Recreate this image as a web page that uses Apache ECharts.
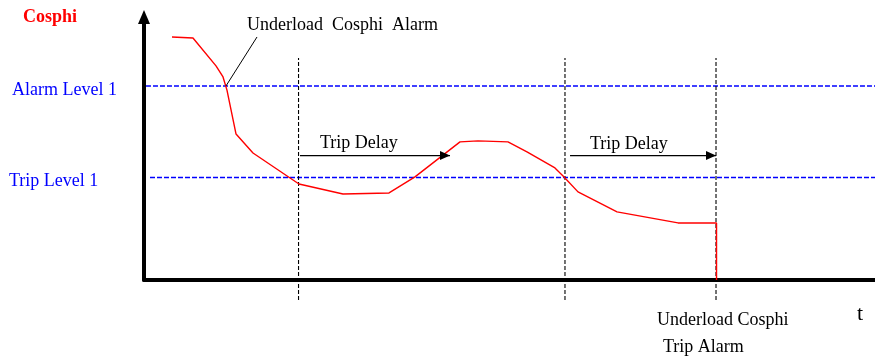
<!DOCTYPE html>
<html>
<head>
<meta charset="utf-8">
<script src="https://cdn.jsdelivr.net/npm/echarts@6/dist/echarts.min.js"></script>
<style>
  html, body { margin: 0; padding: 0; background: #ffffff; }
  #chart { width: 875px; height: 359px; }
</style>
</head>
<body>
<div id="chart"></div>
<script>
// Cosphi curve over time (time in arbitrary units 0..100, cosphi normalised 0..1)
const curveTime   = [3.83, 6.70, 9.85, 10.81, 11.35, 12.59, 14.91, 21.20, 27.22, 33.52, 37.07, 43.23, 45.69, 49.79, 52.39, 56.22, 57.46, 59.37, 64.71, 73.05, 78.32, 78.32];
const curveCosphi = [0.924, 0.920, 0.814, 0.772, 0.722, 0.555, 0.483, 0.365, 0.327, 0.331, 0.392, 0.525, 0.529, 0.525, 0.487, 0.426, 0.392, 0.335, 0.259, 0.217, 0.217, 0];

// Threshold levels
const levelNames  = ['Alarm Level 1', 'Trip Level 1'];
const levelValues = [0.738, 0.390];
const levelStart  = [0.27, 0.82];

// Event instants (start of delay, alarm restart, trip) and the span of their guide lines
const eventTimes  = [21.14, 57.59, 78.25];
const eventSpan   = [-0.076, 0.844];

// Trip delay arrows: [start, end] in time, drawn at one cosphi height
const delayStart  = [21.34, 58.28];
const delayEnd    = [41.86, 78.25];
const delayLevel  = 0.473;
const delayLabel  = 'Trip Delay';

// Pointer from the alarm crossing to its caption
const pointerTime   = [11.22, 15.46];
const pointerCosphi = [0.738, 0.924];

const FONT = '"Liberation Serif", "Times New Roman", serif';

const chart = echarts.init(document.getElementById('chart'), null, { renderer: 'canvas' });

const series = [];

// Threshold lines (blue dashed)
levelValues.forEach((v, i) => {
  series.push({
    type: 'line', name: levelNames[i], symbol: 'none', silent: true, clip: false,
    data: [[levelStart[i], v], [100, v]],
    lineStyle: { color: '#0000ff', width: 1.5, type: [5, 2] }
  });
});

// Event guide lines (black dashed, vertical)
eventTimes.forEach((t) => {
  series.push({
    type: 'line', symbol: 'none', silent: true, clip: false,
    data: [[t, eventSpan[0]], [t, eventSpan[1]]],
    lineStyle: { color: '#000000', width: 1.1, type: [4, 2] }
  });
});

// Cosphi curve
series.push({
  type: 'line', name: 'Cosphi', symbol: 'none', silent: true, clip: false,
  data: curveTime.map((t, i) => [t, curveCosphi[i]]),
  lineStyle: { color: '#ff0000', width: 1.4 }
});

// Trip delay arrows
delayStart.forEach((s, i) => {
  series.push({
    type: 'line', symbol: 'none', silent: true, clip: false,
    data: [
      [s, delayLevel],
      { value: [delayEnd[i], delayLevel], symbol: 'triangle', symbolSize: [9, 10], symbolRotate: -90, symbolOffset: [-5, 0] }
    ],
    showAllSymbol: true,
    itemStyle: { color: '#000000' },
    lineStyle: { color: '#000000', width: 1.3 }
  });
});

// Pointer line to the alarm caption
series.push({
  type: 'line', symbol: 'none', silent: true, clip: false,
  data: pointerTime.map((t, i) => [t, pointerCosphi[i]]),
  lineStyle: { color: '#000000', width: 1 }
});

function txt(text, x, y, size, color, weight) {
  return {
    type: 'text', x: x, y: y, silent: true,
    style: {
      text: text, fill: color || '#000000',
      font: (weight ? weight + ' ' : '') + size + 'px ' + FONT,
      align: 'left', verticalAlign: 'middle'
    }
  };
}

const option = {
  backgroundColor: '#ffffff',
  animation: false,
  grid: { left: 144, right: 0, top: 17, bottom: 79, containLabel: false },
  xAxis: {
    type: 'value', min: 0, max: 100,
    axisLine: { show: true, lineStyle: { color: '#000000', width: 4 } },
    axisTick: { show: false }, axisLabel: { show: false }, splitLine: { show: false }
  },
  yAxis: {
    type: 'value', min: 0, max: 1,
    axisLine: {
      show: true, symbol: ['none', 'triangle'], symbolSize: [12, 14],
      lineStyle: { color: '#000000', width: 4 }
    },
    axisTick: { show: false }, axisLabel: { show: false }, splitLine: { show: false }
  },
  series: series,
  graphic: [
    txt('Cosphi', 23, 17, 18, '#ff0000', 'bold'),
    txt(levelNames[0], 12, 90.5, 18, '#0000ff'),
    txt(levelNames[1], 9, 181, 18, '#0000ff'),
    txt('Underload  Cosphi  Alarm', 247, 25.7, 18),
    txt(delayLabel, 320, 143, 18),
    txt(delayLabel, 590, 144, 18),
    txt('Underload Cosphi', 657, 320.7, 18),
    txt('Trip Alarm', 663, 347.3, 18),
    txt('t', 857, 314, 22)
  ]
};

chart.setOption(option);
</script>
</body>
</html>
